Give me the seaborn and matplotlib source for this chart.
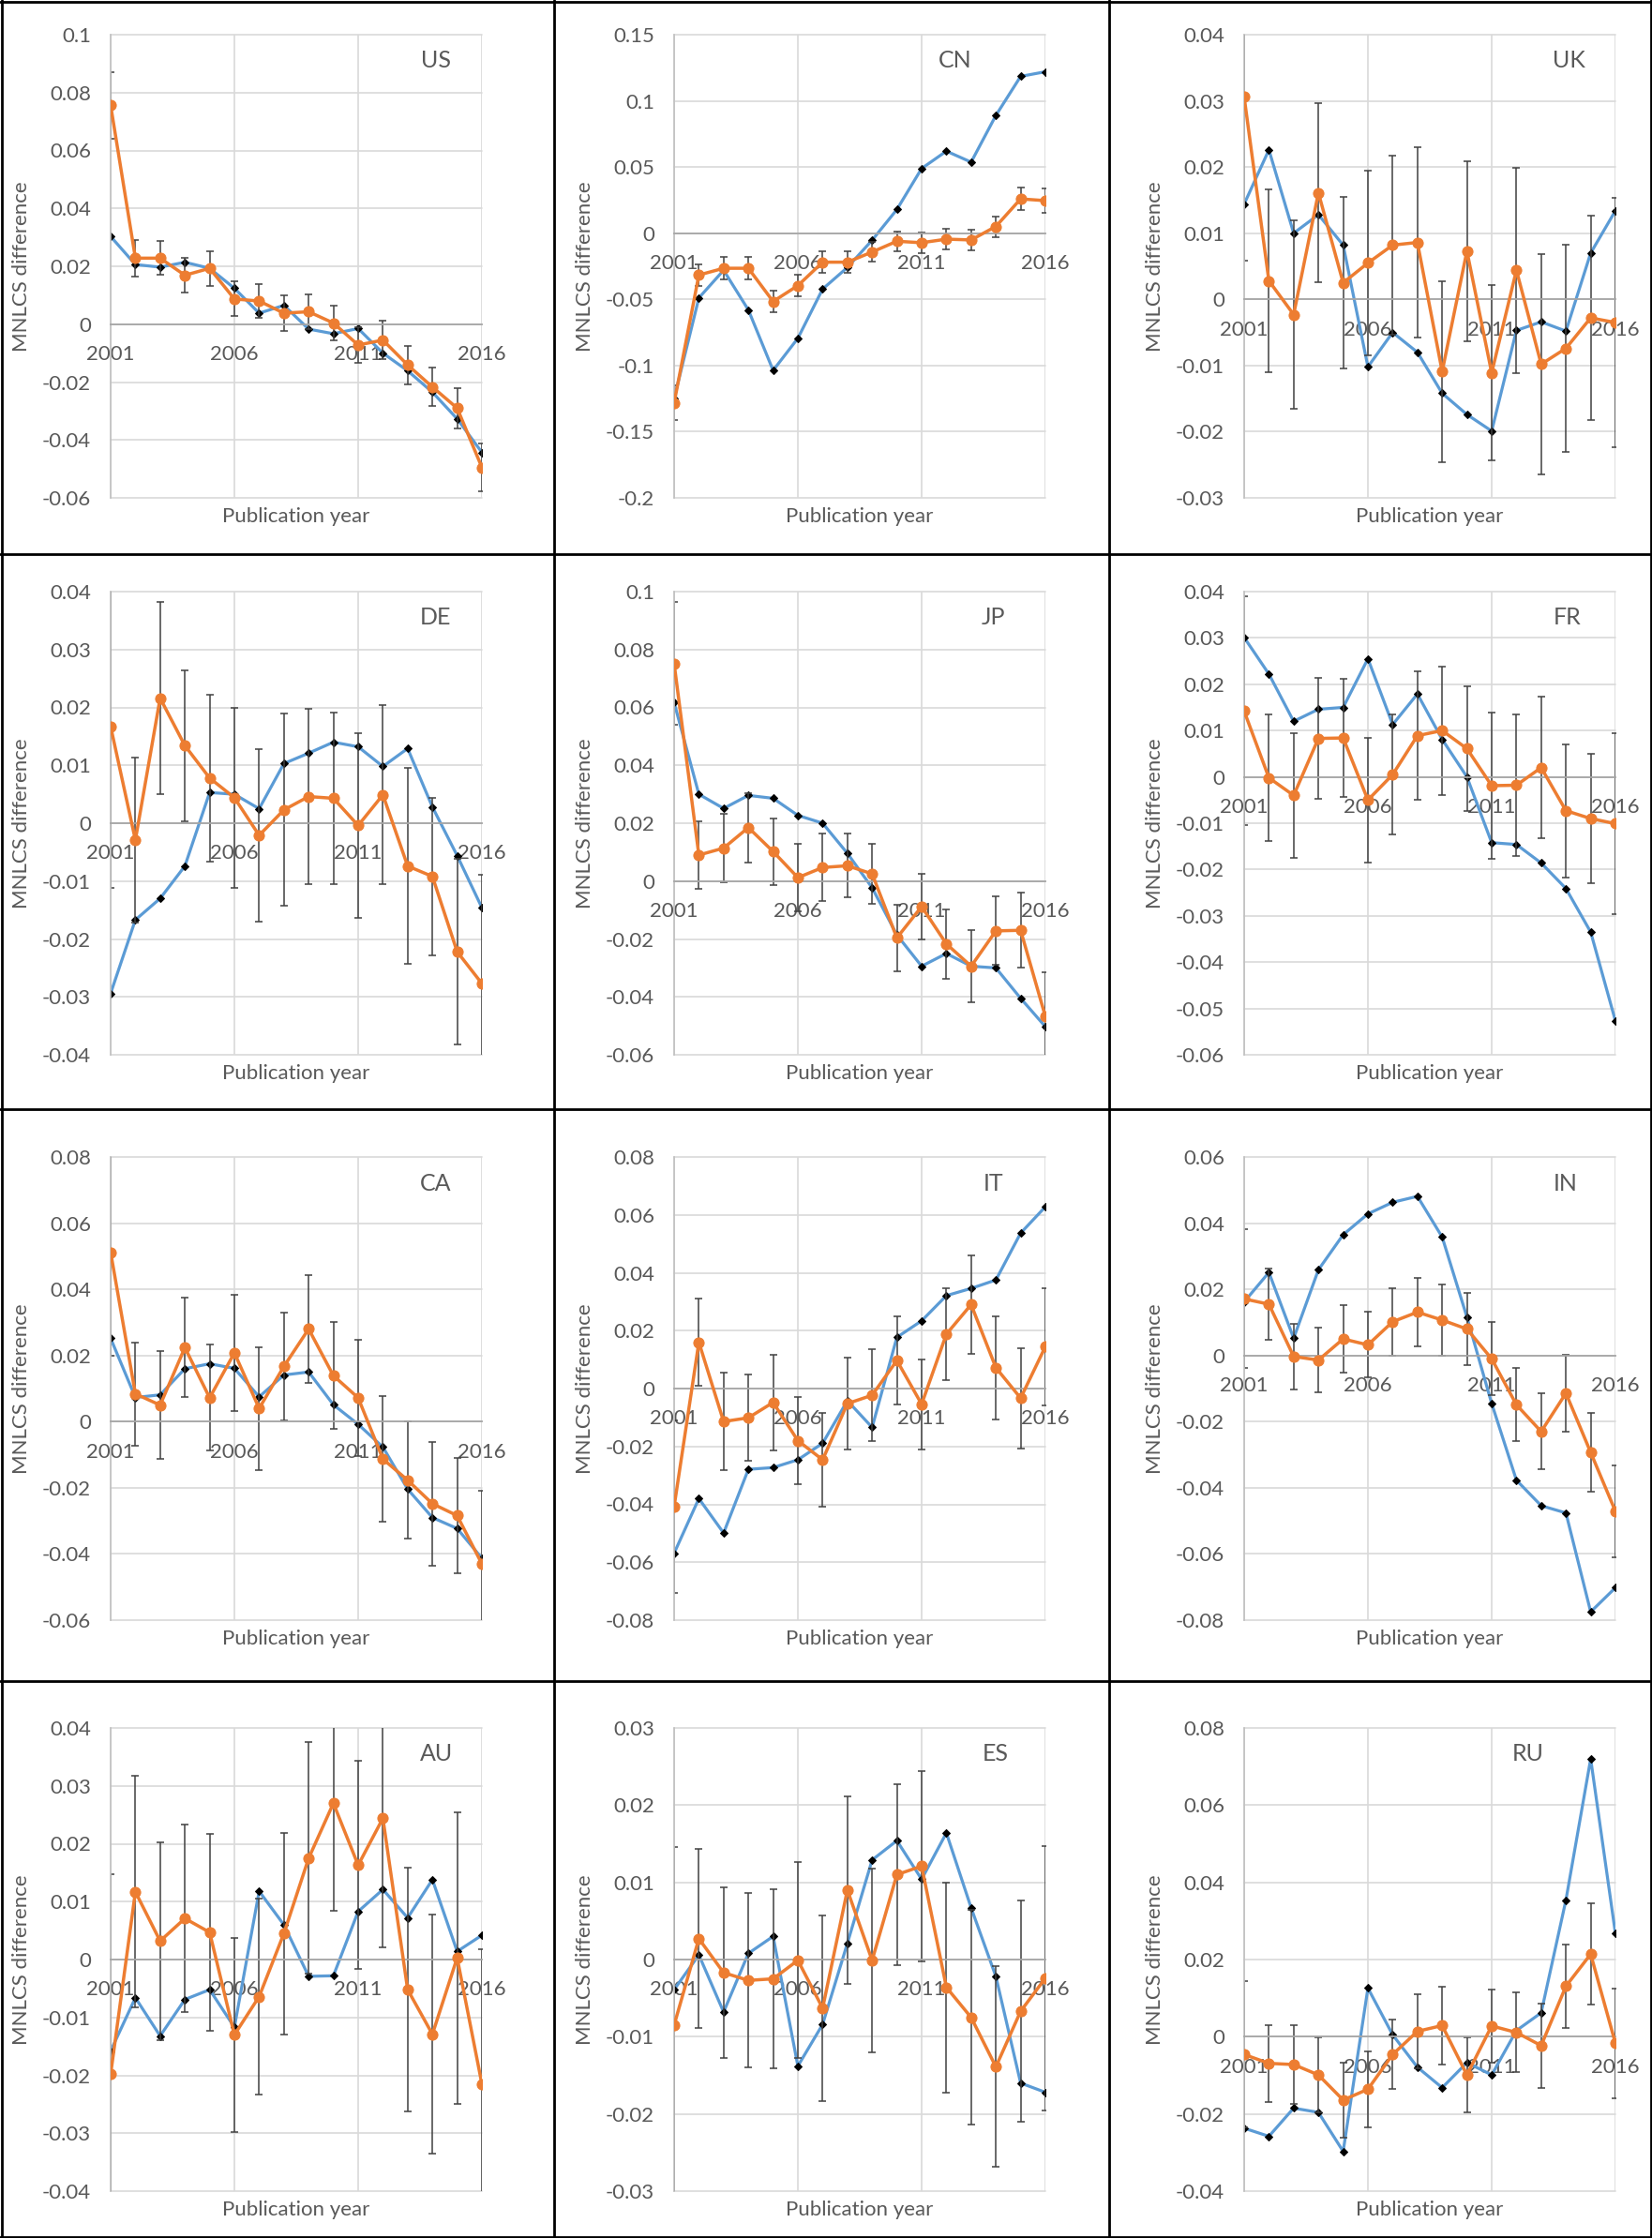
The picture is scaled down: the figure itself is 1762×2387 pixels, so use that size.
"""Small multiples of MNLCS differences by publication year, one panel per country."""
import numpy as np
import seaborn as sns
import matplotlib.pyplot as plt
from matplotlib.lines import Line2D
from matplotlib.ticker import FuncFormatter

years = list(range(2001, 2017))
year_ticks = [2001, 2006, 2011, 2016]

us_blue = [0.0303, 0.0206, 0.0197, 0.0214, 0.0193, 0.0124, 0.0038, 0.0065,
           -0.0017, -0.0033, -0.0015, -0.0100, -0.0161, -0.0235, -0.0327, -0.0443]
us_orange = [0.0756, 0.0228, 0.0228, 0.0169, 0.0193, 0.0087, 0.0080, 0.0038,
             0.0043, 0.0004, -0.0072, -0.0055, -0.0141, -0.0217, -0.0290, -0.0495]
us_err = [0.0116, 0.0063, 0.0058, 0.006, 0.006, 0.006, 0.0058, 0.006,
          0.006, 0.006, 0.0063, 0.0067, 0.0066, 0.0067, 0.0069, 0.0083]

cn_blue = [-0.125, -0.0489, -0.028, -0.058, -0.1037, -0.0794, -0.0422, -0.0259,
           -0.0053, 0.0179, 0.0489, 0.062, 0.0537, 0.089, 0.1185, 0.122]
cn_orange = [-0.1283, -0.0316, -0.0265, -0.0265, -0.0516, -0.0396, -0.0219, -0.0219,
             -0.0142, -0.0061, -0.0072, -0.0045, -0.0051, 0.0051, 0.0259, 0.0246]
cn_err = [0.013, 0.008, 0.0087, 0.0085, 0.0083, 0.008, 0.008, 0.008,
          0.0076, 0.0074, 0.0076, 0.0076, 0.0076, 0.0078, 0.0083, 0.009]

uk_blue = [0.0144, 0.0226, 0.0100, 0.0128, 0.0082, -0.0102, -0.005, -0.008,
           -0.0142, -0.0174, -0.0199, -0.0047, -0.0034, -0.0048, 0.007, 0.0134]
uk_orange = [0.0306, 0.0028, -0.0023, 0.0161, 0.0025, 0.0055, 0.0082, 0.0086,
             -0.0109, 0.0073, -0.0111, 0.0044, -0.0098, -0.0074, -0.0028, -0.0035]
uk_err = [0.0247, 0.0138, 0.0143, 0.0135, 0.013, 0.014, 0.0135, 0.0144,
          0.0137, 0.0136, 0.0132, 0.0155, 0.0166, 0.0156, 0.0154, 0.0189]

de_blue = [-0.0294, -0.0167, -0.0130, -0.0074, 0.0053, 0.0050, 0.0025, 0.0103,
           0.0121, 0.0140, 0.0132, 0.0098, 0.0129, 0.0028, -0.0056, -0.0146]
de_orange = [0.0167, -0.0029, 0.0216, 0.0134, 0.0078, 0.0044, -0.0021, 0.0023,
             0.0046, 0.0043, -0.0004, 0.0049, -0.0074, -0.0092, -0.0222, -0.0277]
de_err = [0.0279, 0.0143, 0.0166, 0.013, 0.0144, 0.0155, 0.0149, 0.0166,
          0.0152, 0.0148, 0.016, 0.0155, 0.0169, 0.0136, 0.016, 0.0188]

jp_blue = [0.0617, 0.0300, 0.0251, 0.0296, 0.0286, 0.0227, 0.0200, 0.0096,
           -0.0023, -0.0186, -0.0294, -0.0250, -0.0294, -0.0300, -0.0405, -0.0503]
jp_orange = [0.0752, 0.0090, 0.0114, 0.0185, 0.0102, 0.0012, 0.0047, 0.0053,
             0.0025, -0.0196, -0.0088, -0.0217, -0.0294, -0.0172, -0.0170, -0.0468]
jp_err = [0.0211, 0.0118, 0.0118, 0.012, 0.0115, 0.0117, 0.0116, 0.011,
          0.0104, 0.0115, 0.0113, 0.012, 0.0124, 0.0118, 0.0129, 0.0153]

fr_blue = [0.0301, 0.0222, 0.0120, 0.0146, 0.0150, 0.0255, 0.0113, 0.0179,
           0.0081, 0.0000, -0.0142, -0.0146, -0.0186, -0.0241, -0.0335, -0.0527]
fr_orange = [0.0142, -0.0002, -0.0040, 0.0083, 0.0084, -0.0050, 0.0005, 0.0089,
             0.0100, 0.0061, -0.0019, -0.0018, 0.0020, -0.0073, -0.0090, -0.0101]
fr_err = [0.0247, 0.0136, 0.0135, 0.013, 0.0128, 0.0135, 0.013, 0.0138,
          0.0139, 0.0134, 0.0157, 0.0152, 0.0153, 0.0144, 0.014, 0.0195]

ca_blue = [0.0252, 0.0073, 0.0081, 0.0160, 0.0175, 0.0161, 0.0075, 0.0141,
           0.0150, 0.0051, -0.0008, -0.0077, -0.0204, -0.0290, -0.0323, -0.0413]
ca_orange = [0.0512, 0.0084, 0.0050, 0.0224, 0.0072, 0.0208, 0.0040, 0.0167,
             0.0280, 0.0139, 0.0072, -0.0113, -0.0177, -0.0248, -0.0284, -0.0430]
ca_err = [0.0312, 0.0156, 0.0163, 0.015, 0.016, 0.0175, 0.0186, 0.0163,
          0.0162, 0.0162, 0.0175, 0.019, 0.0177, 0.0187, 0.0175, 0.022]

it_blue = [-0.0569, -0.0380, -0.0499, -0.0279, -0.0273, -0.0246, -0.0189, -0.0042,
           -0.0134, 0.0177, 0.0234, 0.0321, 0.0346, 0.0375, 0.0537, 0.0628]
it_orange = [-0.0408, 0.0160, -0.0114, -0.0101, -0.0048, -0.0180, -0.0246, -0.0052,
             -0.0023, 0.0097, -0.0054, 0.0188, 0.0290, 0.0072, -0.0033, 0.0145]
it_err = [0.0297, 0.015, 0.0168, 0.015, 0.0165, 0.015, 0.0162, 0.0158,
          0.0158, 0.0153, 0.0156, 0.0159, 0.017, 0.0178, 0.0173, 0.0203]

in_blue = [0.0162, 0.0251, 0.0052, 0.0259, 0.0365, 0.0428, 0.0463, 0.0481,
           0.0358, 0.0116, -0.0145, -0.0377, -0.0454, -0.0476, -0.0775, -0.0702]
in_orange = [0.0171, 0.0155, -0.0003, -0.0014, 0.0050, 0.0032, 0.0102, 0.0131,
             0.0107, 0.0080, -0.0010, -0.0149, -0.0230, -0.0114, -0.0293, -0.0471]
in_err = [0.021, 0.0108, 0.0099, 0.0097, 0.0101, 0.0099, 0.0102, 0.0103,
          0.0107, 0.0108, 0.011, 0.011, 0.0115, 0.0115, 0.0118, 0.014]

au_blue = [-0.0158, -0.0066, -0.0132, -0.0069, -0.0052, -0.0117, 0.0118, 0.0060,
           -0.0029, -0.0028, 0.0083, 0.0121, 0.0072, 0.0138, 0.0014, 0.0042]
au_orange = [-0.0198, 0.0117, 0.0032, 0.0071, 0.0047, -0.0130, -0.0064, 0.0045,
             0.0175, 0.0270, 0.0163, 0.0244, -0.0052, -0.0129, 0.0003, -0.0215]
au_err = [0.0345, 0.02, 0.0171, 0.0162, 0.017, 0.0168, 0.017, 0.0174,
          0.02, 0.0186, 0.018, 0.0223, 0.021, 0.0206, 0.0252, 0.0233]

es_blue = [-0.0039, 0.0006, -0.0068, 0.0008, 0.0030, -0.0138, -0.0084, 0.0021,
           0.0129, 0.0154, 0.0104, 0.0164, 0.0067, -0.0022, -0.0160, -0.0172]
es_orange = [-0.0085, 0.0027, -0.0017, -0.0027, -0.0025, -0.0001, -0.0063, 0.0090,
             -0.0001, 0.0110, 0.0121, -0.0036, -0.0075, -0.0139, -0.0067, -0.0024]
es_err = [0.0231, 0.0116, 0.0111, 0.0113, 0.0116, 0.0127, 0.012, 0.0121,
          0.0119, 0.0117, 0.0123, 0.0136, 0.0139, 0.013, 0.0143, 0.0171]

ru_blue = [-0.0237, -0.0258, -0.0185, -0.0196, -0.0297, 0.0126, 0.0005, -0.0079,
           -0.0132, -0.0067, -0.0099, 0.0016, 0.0062, 0.0354, 0.0720, 0.0267]
ru_orange = [-0.0046, -0.0069, -0.0072, -0.0099, -0.0164, -0.0136, -0.0046, 0.0014,
             0.0029, -0.0099, 0.0028, 0.0011, -0.0023, 0.0131, 0.0214, -0.0017]
ru_err = [0.019, 0.01, 0.0101, 0.0098, 0.0097, 0.0098, 0.009, 0.0096,
          0.01, 0.0098, 0.0095, 0.0103, 0.011, 0.0108, 0.0131, 0.0142]

# code, series, y range and tick step, x position of the country label
panels = [
    ("US", us_blue, us_orange, us_err, (-0.06, 0.1), 0.02, 0.876),
    ("CN", cn_blue, cn_orange, cn_err, (-0.2, 0.15), 0.05, 0.758),
    ("UK", uk_blue, uk_orange, uk_err, (-0.03, 0.04), 0.01, 0.876),
    ("DE", de_blue, de_orange, de_err, (-0.04, 0.04), 0.01, 0.876),
    ("JP", jp_blue, jp_orange, jp_err, (-0.06, 0.1), 0.02, 0.861),
    ("FR", fr_blue, fr_orange, fr_err, (-0.06, 0.04), 0.01, 0.871),
    ("CA", ca_blue, ca_orange, ca_err, (-0.06, 0.08), 0.02, 0.876),
    ("IT", it_blue, it_orange, it_err, (-0.08, 0.08), 0.02, 0.861),
    ("IN", in_blue, in_orange, in_err, (-0.08, 0.06), 0.02, 0.866),
    ("AU", au_blue, au_orange, au_err, (-0.04, 0.04), 0.01, 0.877),
    ("ES", es_blue, es_orange, es_err, (-0.03, 0.03), 0.01, 0.866),
    ("RU", ru_blue, ru_orange, ru_err, (-0.04, 0.08), 0.02, 0.765),
]

BLUE = "#5B9BD5"
ORANGE = "#ED7D31"
TEXT = "#595959"

W, H = 1762, 2387
col_left = [118, 719, 1327]
row_top = [37, 631, 1234, 1843]
plot_w, plot_h = 396, 494
col_sep = [591, 1183]
row_sep = [591, 1183, 1793]

sns.set_theme(style="white")
plt.rcParams['font.family'] = ['Lato', 'DejaVu Sans']


def y_fmt(v, pos):
    s = f"{round(v, 4):g}"
    return "0" if s == "-0" else s


fig = plt.figure(figsize=(W / 100, H / 100), dpi=100)

for i, (code, blue, orange, err, ylim, step, lab_x) in enumerate(panels):
    r, c = divmod(i, 3)
    rect = [col_left[c] / W, 1 - (row_top[r] + plot_h) / H, plot_w / W, plot_h / H]
    ax = fig.add_axes(rect)
    ax.set_axisbelow(True)

    sns.lineplot(x=years, y=blue, ax=ax, color=BLUE, lw=2.3, marker="D",
                 markersize=4.5, markerfacecolor="black", markeredgecolor="black",
                 legend=False, zorder=2)
    ax.errorbar(years, orange, yerr=err, fmt="none", ecolor="#404040",
                elinewidth=1.1, capsize=2.8, capthick=1.1, zorder=2.5)
    sns.lineplot(x=years, y=orange, ax=ax, color=ORANGE, lw=2.5, marker="o",
                 markersize=8, markerfacecolor=ORANGE, markeredgecolor=ORANGE,
                 legend=False, zorder=3)

    ax.set_xlim(2001, 2016)
    ax.set_ylim(*ylim)
    ax.set_yticks(np.arange(ylim[0], ylim[1] + step / 2, step))
    ax.yaxis.set_major_formatter(FuncFormatter(y_fmt))
    ax.set_xticks(year_ticks)
    ax.set_xticklabels([str(y) for y in year_ticks])

    ax.grid(True, color="#D9D9D9", lw=1.2)
    for gl in ax.get_xgridlines() + ax.get_ygridlines():
        gl.set_clip_on(False)
    for side in ("top", "right"):
        ax.spines[side].set_visible(False)
    ax.spines["left"].set_color("#BFBFBF")
    ax.spines["left"].set_linewidth(1.2)
    ax.spines["bottom"].set_position(("data", 0))
    ax.spines["bottom"].set_color("#A6A6A6")
    ax.spines["bottom"].set_linewidth(1.3)

    ax.tick_params(axis="both", length=0, labelsize=16, labelcolor=TEXT)
    ax.tick_params(axis="x", pad=16)
    ax.tick_params(axis="y", pad=15)

    ax.set_ylabel("MNLCS difference", fontsize=16, color=TEXT, va="center")
    ax.yaxis.set_label_coords(-95 / plot_w, 0.5)
    ax.set_xlabel("Publication year", fontsize=16, color=TEXT, va="center")
    ax.xaxis.set_label_coords(0.5, -20 / plot_h)

    ax.text(lab_x, 1 - 28 / plot_h, code, transform=ax.transAxes,
            ha="center", va="center", fontsize=18, color=TEXT)

# panel frames
frame = dict(color="black", lw=2.0, transform=fig.transFigure)
for x in [1.5] + col_sep + [W - 1.5]:
    fig.add_artist(Line2D([x / W, x / W], [0, 1], **frame))
for y in [1.5] + row_sep + [H - 1.5]:
    fig.add_artist(Line2D([0, 1], [1 - y / H, 1 - y / H], **frame))

fig.savefig("out.png", dpi=100, facecolor="white")
